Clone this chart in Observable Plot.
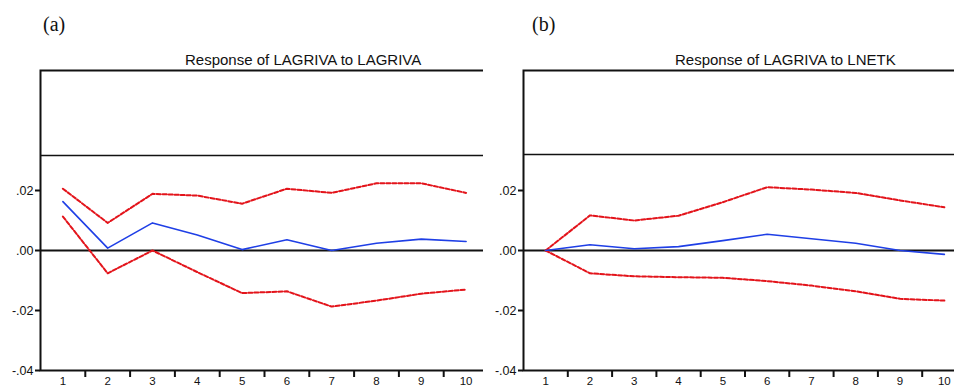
<!DOCTYPE html>
<html>
<head>
<meta charset="utf-8">
<script src="https://cdn.jsdelivr.net/npm/d3@7"></script>
<script src="https://cdn.jsdelivr.net/npm/@observablehq/plot@0.6"></script>
<style>
  html, body { margin: 0; padding: 0; background: #fff; }
  #wrap { position: relative; width: 954px; height: 388px; overflow: hidden; background: #fff; }
  .panel { position: absolute; top: 0; }
  .tag { position: absolute; font-family: "Liberation Serif", serif; font-size: 20px; color: #111; line-height: 1; }
  .ttl { position: absolute; font-family: "Liberation Sans", Arial, sans-serif; font-size: 15px; letter-spacing: 0px; color: #111; line-height: 1; white-space: nowrap; }
</style>
</head>
<body>
<div id="wrap"></div>
<script>
const periods = [1, 2, 3, 4, 5, 6, 7, 8, 9, 10];
const tickLabels = ["1", "2", "3", "4", "5", "6", "7", "8", "9", "10"];
const yTicks = [-0.04, -0.02, 0, 0.02];
const yTickLabels = ["-.04", "-.02", ".00", ".02"];

const aResponse = [0.0163, 0.0008, 0.0092, 0.0052, 0.0003, 0.0036, 0.0000, 0.0024, 0.0038, 0.0030];
const aUpper    = [0.0206, 0.0092, 0.0189, 0.0183, 0.0156, 0.0206, 0.0192, 0.0224, 0.0224, 0.0192];
const aLower    = [0.0113, -0.0076, 0.0000, -0.0072, -0.0142, -0.0136, -0.0187, -0.0167, -0.0144, -0.0130];

const bResponse = [0.0000, 0.0019, 0.0006, 0.0013, 0.0033, 0.0054, 0.0039, 0.0024, 0.0000, -0.0013];
const bUpper    = [0.0000, 0.0117, 0.0100, 0.0116, 0.0161, 0.0211, 0.0203, 0.0192, 0.0167, 0.0144];
const bLower    = [0.0000, -0.0076, -0.0086, -0.0089, -0.0091, -0.0102, -0.0117, -0.0136, -0.0161, -0.0167];

const panelTags = ["(a)", "(b)"];
const panelTitles = ["Response of LAGRIVA to LAGRIVA", "Response of LAGRIVA to LNETK"];

const wrap = document.getElementById("wrap");

function panel(resp, up, lo, width, topLine) {
  const rows = periods.map((p, i) => ({p, resp: resp[i], up: up[i], lo: lo[i]}));
  const bounds = periods.slice(0, -1).map(p => p + 0.5);
  const fmt = new Map(yTicks.map((t, i) => [t, yTickLabels[i]]));
  return Plot.plot({
    width, height: 388,
    marginLeft: 40, marginRight: 0, marginTop: 70, marginBottom: 18,
    style: {fontFamily: "'Liberation Sans', Arial, sans-serif", fontSize: "12.5px", color: "#111", background: "#fff"},
    x: {domain: [0.5, 10.5]},
    y: {domain: [-0.04, 0.06]},
    marks: [
      Plot.axisY(yTicks, {tickSize: 5, tickPadding: 2, strokeWidth: 2, tickFormat: d => fmt.get(d), label: null, fill: "#111"}),
      Plot.axisX(bounds, {tickSize: 7, strokeWidth: 2, tickFormat: () => "", label: null}),
      Plot.axisX(periods, {tickSize: 0, tickPadding: 6, fontSize: 11.5, tickFormat: (d, i) => tickLabels[i], label: null, fill: "#111"}),
      Plot.ruleY([topLine], {stroke: "#111", strokeWidth: 1.5}),
      Plot.ruleY([0], {stroke: "#111", strokeWidth: 2}),
      Plot.line(rows, {x: "p", y: "up", stroke: "#e3141b", strokeWidth: 2, strokeDasharray: "4,2"}),
      Plot.line(rows, {x: "p", y: "lo", stroke: "#e3141b", strokeWidth: 2, strokeDasharray: "4,2"}),
      Plot.line(rows, {x: "p", y: "resp", stroke: "#1f3fe6", strokeWidth: 1.6}),
      Plot.frame({stroke: "#111", strokeWidth: 2})
    ]
  });
}

const pa = panel(aResponse, aUpper, aLower, 488, 0.0317);
pa.classList.add("panel"); pa.style.left = "0px";
wrap.appendChild(pa);

const pb = panel(bResponse, bUpper, bLower, 483, 0.032);
pb.classList.add("panel"); pb.style.left = "483px";
wrap.appendChild(pb);

function addText(cls, txt, left, top) {
  const d = document.createElement("div");
  d.className = cls; d.textContent = txt;
  d.style.left = left + "px"; d.style.top = top + "px";
  wrap.appendChild(d);
}
addText("tag", panelTags[0], 43, 14);
addText("tag", panelTags[1], 532, 14);
addText("ttl", panelTitles[0], 185, 52);
addText("ttl", panelTitles[1], 675, 52);
</script>
</body>
</html>
